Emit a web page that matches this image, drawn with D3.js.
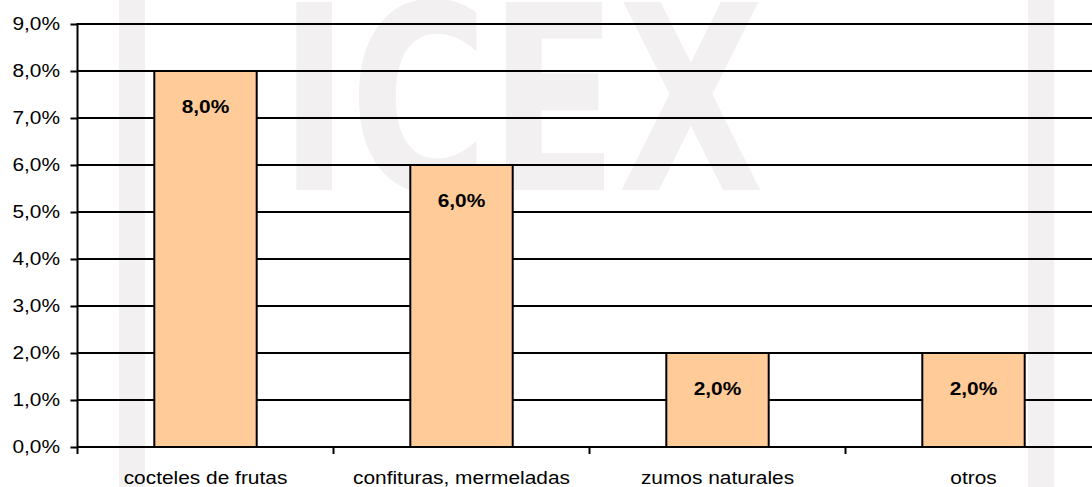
<!DOCTYPE html>
<html>
<head>
<meta charset="utf-8">
<script src="https://cdn.jsdelivr.net/npm/d3@7"></script>
<style>
  body { margin: 0; background: #fff; }
  svg { display: block; font-family: "Liberation Sans", Arial, sans-serif; }
</style>
</head>
<body>
<div id="chart"></div>
<script>
//Chart data.
let categories = ["cocteles de frutas", "confituras, mermeladas", "zumos naturales", "otros"]
let values = [8.0, 6.0, 2.0, 2.0]
let yTicks = [0, 1, 2, 3, 4, 5, 6, 7, 8, 9]

let w = 1092
let h = 487

//Plot area (the chart is cut off at the right edge).
let plotLeft = 77.5
let bandW = 256
let plotTop = 24
let plotBottom = 447

//The original picture is stretched sideways, so are its texts.
let fontSize = 18.5
let stretch = 1.13

const fmt = d => d.toFixed(1).replace(".", ",") + "%"

const svg = d3.select("#chart")
              .append("svg")
              .attr("width", w)
              .attr("height", h)

//Watermark in the background.
const wm = svg.append("g").attr("fill", "#f2f0f1")
wm.append("rect").attr("x", 119).attr("y", 0).attr("width", 26).attr("height", h)
wm.append("rect").attr("x", 1028).attr("y", 0).attr("width", 26).attr("height", h)
wm.append("text")
  .attr("x", 279)
  .attr("y", 190)
  .attr("font-size", 258)
  .attr("font-family", "DejaVu Sans, sans-serif")
  .attr("font-weight", "bold")
  .attr("textLength", 485)
  .attr("lengthAdjust", "spacingAndGlyphs")
  .text("ICEX")

//Scales.
let x = d3.scaleBand()
          .domain(categories)
          .range([plotLeft, plotLeft + bandW * categories.length])

let y = d3.scaleLinear()
          .domain([0, 9])
          .range([plotBottom, plotTop])

//Gridlines.
svg.append("g")
   .selectAll("line")
   .data(yTicks)
   .enter()
   .append("line")
   .attr("x1", plotLeft)
   .attr("x2", w)
   .attr("y1", d => y(d))
   .attr("y2", d => y(d))
   .attr("stroke", "#000")
   .attr("stroke-width", 2)

//Y axis.
let yAxis = d3.axisLeft(y)
              .tickValues(yTicks)
              .tickFormat(fmt)
              .tickSize(7)
              .tickSizeOuter(0)
              .tickPadding(9)

const gy = svg.append("g")
              .attr("transform", "translate(" + plotLeft + ",0)")
              .call(yAxis)
gy.select(".domain").remove()
gy.selectAll(".tick line").attr("stroke", "#000").attr("stroke-width", 2)
gy.selectAll(".tick text")
  .attr("font-size", fontSize)
  .attr("font-family", "Liberation Sans, Arial, sans-serif")
  .attr("fill", "#000")
  .attr("x", -17.5 / stretch)
  .attr("transform", "scale(" + stretch + ",1)")
gy.append("line")
  .attr("x1", 0).attr("x2", 0)
  .attr("y1", plotTop - 1).attr("y2", plotBottom + 7)
  .attr("stroke", "#000").attr("stroke-width", 2)

//X axis: ticks between categories.
svg.append("g")
   .selectAll("line")
   .data(categories.slice(1))
   .enter()
   .append("line")
   .attr("x1", d => x(d))
   .attr("x2", d => x(d))
   .attr("y1", plotBottom)
   .attr("y2", plotBottom + 7)
   .attr("stroke", "#000")
   .attr("stroke-width", 2)

svg.append("g")
   .selectAll("text")
   .data(categories)
   .enter()
   .append("text")
   .attr("transform", d => "translate(" + (x(d) + x.bandwidth() / 2) + ",484) scale(" + stretch + ",1)")
   .attr("text-anchor", "middle")
   .attr("font-size", fontSize)
   .text(d => d)

//Bars.
let barW = x.bandwidth() * 0.4

const bars = svg.append("g")
   .selectAll("g")
   .data(values)
   .enter()
   .append("g")

bars.append("rect")
    .attr("x", (d, i) => x(categories[i]) + (x.bandwidth() - barW) / 2)
    .attr("y", d => y(d))
    .attr("width", barW)
    .attr("height", d => y(0) - y(d))
    .attr("fill", "#ffcc99")
    .attr("stroke", "#000")
    .attr("stroke-width", 2)

bars.append("text")
    .attr("transform", (d, i) => "translate(" + (x(categories[i]) + x.bandwidth() / 2) + "," + (y(d) + 42) + ") scale(" + stretch + ",1)")
    .attr("text-anchor", "middle")
    .attr("font-size", fontSize)
    .attr("font-weight", "bold")
    .text(d => fmt(d))
</script>
</body>
</html>
